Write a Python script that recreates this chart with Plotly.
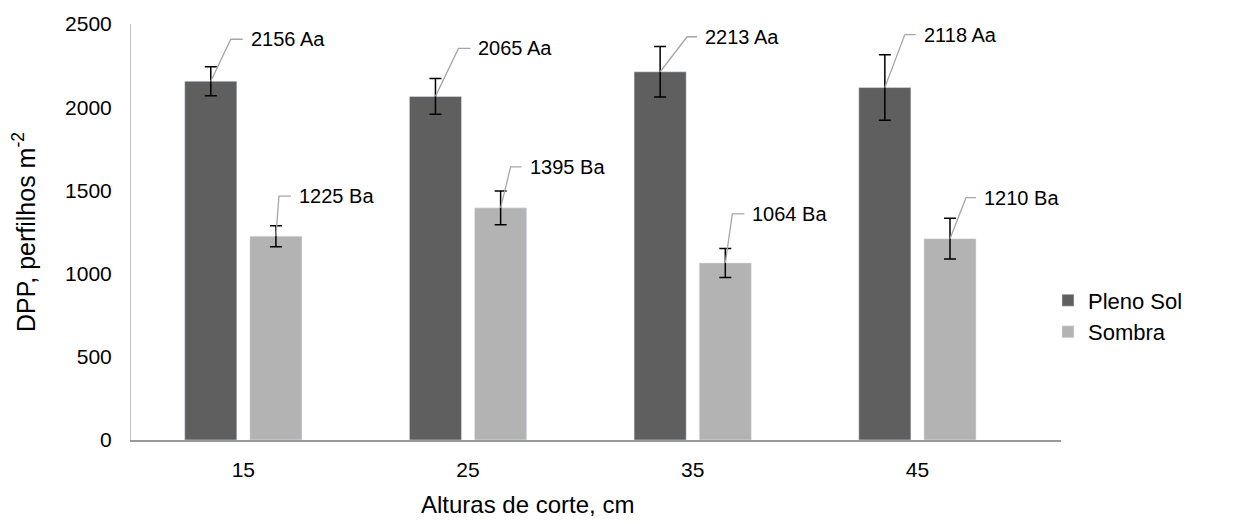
import plotly.graph_objects as go

categories = ["15", "25", "35", "45"]
pleno_sol = [2156, 2065, 2213, 2118]
sombra = [1225, 1395, 1064, 1210]
pleno_sol_err = [87, 107, 152, 197]
sombra_err = [63, 102, 87, 123]
pleno_sol_labels = ["2156 Aa", "2065 Aa", "2213 Aa", "2118 Aa"]
sombra_labels = ["1225 Ba", "1395 Ba", "1064 Ba", "1210 Ba"]
y_ticks = [0, 500, 1000, 1500, 2000, 2500]

# leader-line styling (pixel offsets: dx, rise, stub)
pleno_leaders = [(20, 42, 12), (23, 48, 12), (27, 35, 10), (20, 53, 11)]
sombra_leaders = [(3, 40, 12), (10, 41, 11), (7, 49, 12), (16, 41, 10)]

DARK = "#5f5f5f"
LIGHT = "#b3b3b3"
FONT = "Liberation Sans, Arial, sans-serif"
BARGAP = 0.42
GROUPGAP = 0.2

fig = go.Figure()
fig.add_trace(go.Bar(
    x=categories, y=pleno_sol, name="Pleno Sol", marker_color=DARK,
    error_y=dict(type="data", array=pleno_sol_err, color="black", thickness=1.5, width=6),
))
fig.add_trace(go.Bar(
    x=categories, y=sombra, name="Sombra", marker_color=LIGHT,
    error_y=dict(type="data", array=sombra_err, color="black", thickness=1.5, width=6),
))

slot = (1 - BARGAP) / 2
offsets = [-slot / 2, slot / 2]
annotations = []
shapes = []
for s, (vals, labels, leaders) in enumerate([(pleno_sol, pleno_sol_labels, pleno_leaders),
                                              (sombra, sombra_labels, sombra_leaders)]):
    for i, (v, lab, (dx, rise, stub)) in enumerate(zip(vals, labels, leaders)):
        xc = i + offsets[s]
        shapes.append(dict(
            type="path", xref="x", yref="y", xsizemode="pixel", ysizemode="pixel",
            xanchor=xc, yanchor=v,
            path=f"M0,0 L{dx},{rise} L{dx + stub},{rise}",
            line=dict(color="#a6a6a6", width=1.3),
        ))
        annotations.append(dict(
            x=xc, y=v, xref="x", yref="y", text=lab, showarrow=False,
            xanchor="left", yanchor="middle", xshift=dx + stub + 6, yshift=rise,
            font=dict(size=20, color="black", family=FONT),
        ))

annotations.append(dict(
    x=0.426, y=-0.156, xref="paper", yref="paper", text="Alturas de corte, cm",
    showarrow=False, xanchor="center", yanchor="middle",
    font=dict(size=24, color="black", family=FONT),
))

fig.update_layout(
    width=1251, height=524,
    margin=dict(l=131, r=190, t=22, b=84),
    paper_bgcolor="white", plot_bgcolor="white",
    barmode="group", bargap=BARGAP, bargroupgap=GROUPGAP,
    font=dict(family=FONT, size=21, color="black"),
    shapes=shapes, annotations=annotations,
    legend=dict(x=0.986, y=0.297, xanchor="left", yanchor="middle",
                font=dict(size=22), itemwidth=30, tracegroupgap=0,
                bgcolor="rgba(0,0,0,0)"),
    xaxis=dict(
        type="category", showline=True, linecolor="#9a9a9a", linewidth=2,
        ticks="", showgrid=False, ticklabelstandoff=10,
        tickfont=dict(size=21),
    ),
    yaxis=dict(
        range=[0, 2500], tickvals=y_ticks, showline=True, linecolor="#c0c0c0",
        linewidth=1, ticks="", showgrid=False, zeroline=False, ticklabelstandoff=14,
        title=dict(text="DPP, perfilhos m<sup>-2</sup>", font=dict(size=25), standoff=22),
        tickfont=dict(size=21),
    ),
)

fig.write_html("out.html")
